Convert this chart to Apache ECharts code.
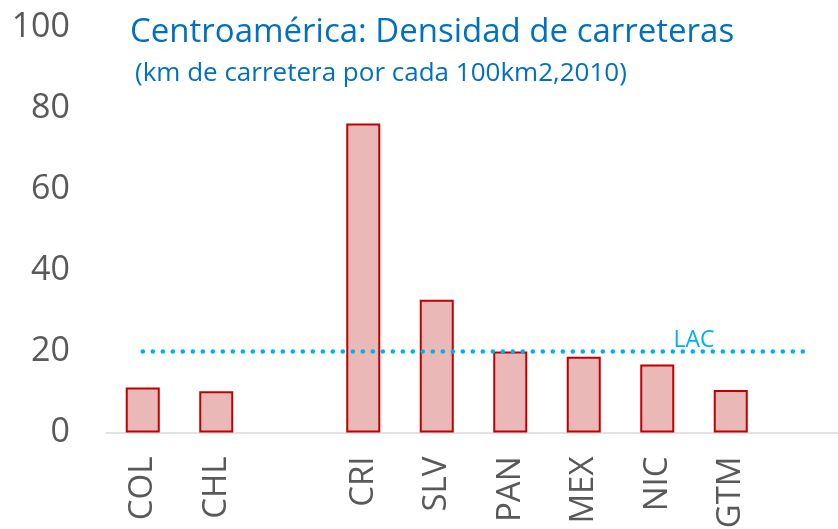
<!DOCTYPE html>
<html>
<head>
<meta charset="utf-8">
<script src="https://cdn.jsdelivr.net/npm/echarts@6/dist/echarts.min.js"></script>
<style>html,body{margin:0;padding:0;background:#fff}#c{width:838px;height:529px}</style>
</head>
<body>
<div id="c"></div>
<script>
const categories = ['COL', 'CHL', '', 'CRI', 'SLV', 'PAN', 'MEX', 'NIC', 'GTM', ''];
const density = [11.1, 10.2, null, 76.3, 32.8, 20.0, 18.7, 16.8, 10.5, null];
const lacValue = 20;
const lacLine = categories.map(() => lacValue);
const yTicks = [0, 20, 40, 60, 80, 100];

const chart = echarts.init(document.getElementById('c'));
chart.setOption({
  animation: false,
  backgroundColor: '#ffffff',
  title: [
    {
      text: 'Centroamérica: Densidad de carreteras',
      left: 125, top: 11,
      textStyle: { color: '#0070c0', fontSize: 33, fontWeight: 'normal', fontFamily: 'Open Sans' }
    },
    {
      text: '(km de carretera por cada 100km2,2010)',
      left: 130, top: 56,
      textStyle: { color: '#0070c0', fontSize: 26, fontWeight: 'normal', fontFamily: 'Open Sans' }
    }
  ],
  grid: { left: 106, width: 735, top: 27.5, bottom: 96.5, containLabel: false, outerBoundsMode: 'none' },
  xAxis: {
    type: 'category',
    data: categories,
    axisLine: { lineStyle: { color: '#d9d9d9', width: 1.5 } },
    axisTick: { show: false },
    axisLabel: {
      rotate: 90, margin: 24, interval: 0,
      color: '#595959', fontSize: 33, fontFamily: 'Open Sans'
    }
  },
  yAxis: {
    type: 'value', min: 0, max: 100, interval: 20,
    axisLine: { show: false },
    axisTick: { show: false },
    splitLine: { show: false },
    axisLabel: {
      margin: 36, color: '#595959', fontSize: 34, fontFamily: 'Open Sans',
      formatter: v => yTicks.includes(v) ? String(v) : ''
    }
  },
  series: [
    {
      type: 'bar',
      data: density,
      barWidth: 34,
      itemStyle: { color: '#ebb8b8', borderColor: '#c00000', borderWidth: 2 }
    },
    {
      type: 'line',
      data: lacLine,
      symbol: 'none',
      lineStyle: { color: '#00b0f0', width: 4.5, type: [0.1, 9.9], cap: 'round' },
      z: 5,
      markLine: {
        silent: true,
        symbol: 'none',
        lineStyle: { color: 'rgba(0,0,0,0)', width: 0 },
        label: {
          show: true, position: 'middle', formatter: 'LAC',
          color: '#00b0f0', fontSize: 23, fontFamily: 'Open Sans', distance: 0
        },
        data: [[{ coord: [7, lacValue] }, { coord: [8, lacValue] }]]
      }
    }
  ]
});
</script>
</body>
</html>
